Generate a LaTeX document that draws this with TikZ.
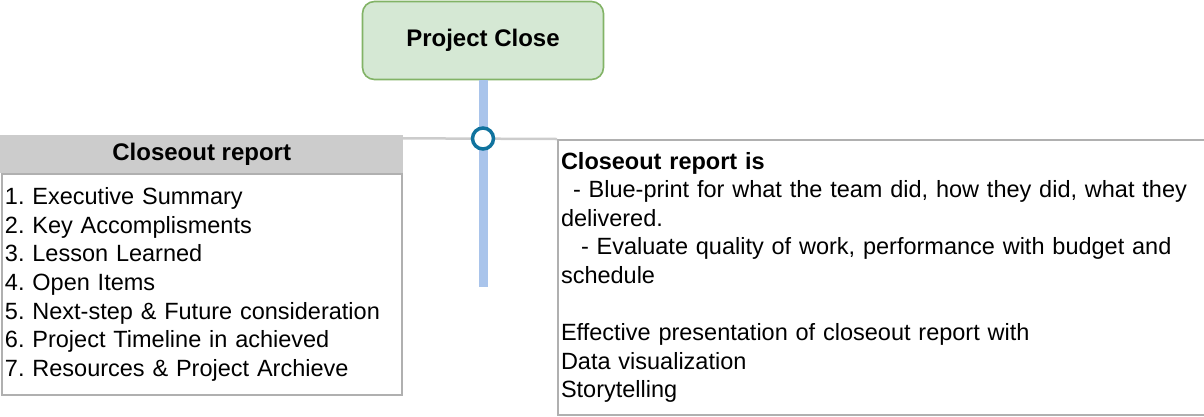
\documentclass[tikz,border=0pt]{standalone}
\usepackage{fontspec}
\setmainfont{Liberation Sans}
\frenchspacing
\definecolor{closefill}{HTML}{D5E8D4}
\definecolor{closeline}{HTML}{82B366}
\definecolor{stemblue}{HTML}{A9C4EB}
\definecolor{hubblue}{HTML}{10739E}
\definecolor{headgray}{HTML}{CCCCCC}
\definecolor{boxgray}{HTML}{B0B0B0}
\begin{document}
\begin{tikzpicture}[x=1pt,y=-1pt,
  reportbox/.style={draw=boxgray,line width=2pt,anchor=north west,align=left,
    inner xsep=3pt,font=\fontsize{23.5}{28.6}\selectfont}]
\useasboundingbox (0,0) rectangle (1204,416);
\coordinate (stemend) at (483,287);
\coordinate (linestart) at (403,138.3);

\node[draw=closeline,fill=closefill,line width=1.6pt,rounded corners=12pt,
  minimum width=241pt,minimum height=78pt,font=\fontsize{24}{28.8}\selectfont\bfseries]
  (close) at (483,40.5) {Project Close};

\node[fill=headgray,anchor=north west,minimum width=403pt,minimum height=38pt,
  inner sep=0pt,font=\fontsize{24}{28.8}\selectfont\bfseries]
  (header) at (0,135) {Closeout report};
\node[reportbox,text width=394pt,minimum height=221pt] (list) at (1,173) {%
1. Executive Summary\\
2. Key Accomplisments\\
3. Lesson Learned\\
4. Open Items\\
5. Next-step \& Future consideration\\
6. Project Timeline in achieved\\
7. Resources \& Project Archieve};

\node[reportbox,text width=642pt,minimum height=275pt] (info) at (557,139) {%
\textbf{Closeout report is}\\
\hspace*{12pt}- Blue-print for what the team did, how they did, what they\\
delivered.\\
\hspace*{20pt}- Evaluate quality of work, performance with budget and\\
schedule\\
\mbox{}\\
Effective presentation of closeout report with\\
Data visualization\\
Storytelling};

\draw[headgray,line width=2.5pt] (linestart) -- (info.north west);
\draw[stemblue,line width=9pt] (close.south) -- (stemend);
\node[circle,draw=hubblue,fill=white,line width=3.5pt,minimum size=21pt,inner sep=0pt]
  (hub) at (483,138.5) {};
\end{tikzpicture}
\end{document}
